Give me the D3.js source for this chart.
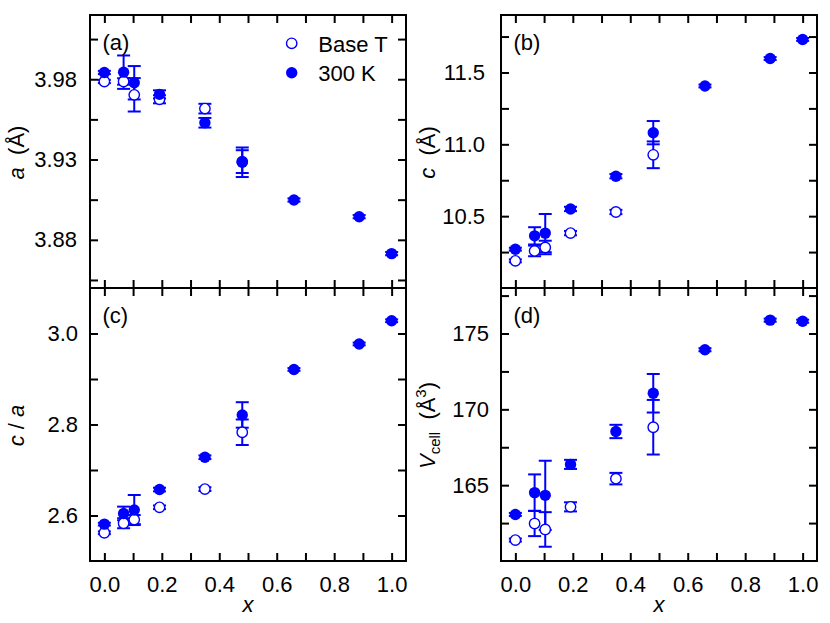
<!DOCTYPE html>
<html><head><meta charset="utf-8">
<script src="https://cdn.jsdelivr.net/npm/d3@7"></script>
<style>
body{margin:0;background:#fff;}
svg{display:block;font-family:"Liberation Sans",Arial,Helvetica,sans-serif;}
</style></head><body>
<svg id="chart" width="830" height="623"></svg>
<script>
// ---- data ----
const xBaseT = [0, 0.067, 0.104, 0.192, 0.35, 0.48];
const x300K  = [0, 0.067, 0.104, 0.192, 0.35, 0.48, 0.66, 0.887, 1.0];

const aBaseT    = [3.9786, 3.9786, 3.9703, 3.9675, 3.9617, 3.9287];
const aBaseTErr = [0.001, 0.002, 0.0104, 0.0025, 0.003, 0.0071];
const a300K     = [3.9842, 3.9844, 3.9778, 3.9706, 3.9529, 3.9283, 3.9048, 3.8944, 3.8714];
const a300KErr  = [0.001, 0.0104, 0.0104, 0.0025, 0.003, 0.0092, 0.001, 0.001, 0.001];

const cBaseT    = [10.189, 10.258, 10.282, 10.382, 10.529, 10.927];
const cBaseTErr = [0.01, 0.037, 0.047, 0.015, 0.015, 0.093];
const c300K     = [10.270, 10.363, 10.382, 10.55, 10.778, 11.081, 11.406, 11.597, 11.73];
const c300KErr  = [0.01, 0.06, 0.133, 0.015, 0.015, 0.081, 0.01, 0.01, 0.01];

const caBaseT    = [2.562, 2.583, 2.591, 2.618, 2.658, 2.783];
const caBaseTErr = [0.003, 0.011, 0.01, 0.004, 0.004, 0.028];
const ca300K     = [2.581, 2.6045, 2.612, 2.657, 2.728, 2.821, 2.921, 2.977, 3.028];
const ca300KErr  = [0.003, 0.015, 0.033, 0.004, 0.004, 0.028, 0.003, 0.003, 0.003];

const vBaseT    = [161.38, 162.47, 162.08, 163.57, 165.43, 168.82];
const vBaseTErr = [0.1, 0.83, 1.14, 0.3, 0.38, 1.8];
const v300K     = [163.07, 164.51, 164.33, 166.37, 168.54, 171.06, 173.93, 175.88, 175.81];
const v300KErr  = [0.1, 1.2, 2.28, 0.3, 0.44, 1.27, 0.1, 0.1, 0.1];

const xDomain = [-0.05, 1.05];
const xTicks = [0, 0.1, 0.2, 0.3, 0.4, 0.5, 0.6, 0.7, 0.8, 0.9, 1.0];
const xTickLabels = [0, 0.2, 0.4, 0.6, 0.8, 1.0];

const aTicks = [3.855, 3.88, 3.905, 3.93, 3.955, 3.98, 4.005];
const aTickLabels = [3.88, 3.93, 3.98];
const cTicks = [10.25, 10.5, 10.75, 11.0, 11.25, 11.5, 11.75];
const cTickLabels = [10.5, 11.0, 11.5];
const caTicks = [2.6, 2.7, 2.8, 2.9, 3.0];
const caTickLabels = [2.6, 2.8, 3.0];
const vTicks = [162.5, 165, 167.5, 170, 172.5, 175, 177.5];
const vTickLabels = [165, 170, 175];

const legendLabels = ["Base T", "300 K"];
const panelLabels = ["(a)", "(b)", "(c)", "(d)"];

// ---- layout ----
const COLS = [[90, 406], [501, 817]];
const ROWS = [[15, 288], [288, 561]];
const BLUE = "#0000ff";
const TICK = 8;
const FS = 22;

const svg = d3.select("#chart");

const panels = [
  {col:0,row:0,dom:[3.85,4.02],ticks:aTicks,labels:aTickLabels,fmt:".2f",pad:13,
   base:aBaseT,baseErr:aBaseTErr,hot:a300K,hotErr:a300KErr,title:"a",label:panelLabels[0],legend:true},
  {col:1,row:0,dom:[10.0,11.9],ticks:cTicks,labels:cTickLabels,fmt:".1f",pad:16,
   base:cBaseT,baseErr:cBaseTErr,hot:c300K,hotErr:c300KErr,title:"c",label:panelLabels[1]},
  {col:0,row:1,dom:[2.5,3.1],ticks:caTicks,labels:caTickLabels,fmt:".1f",pad:12,
   base:caBaseT,baseErr:caBaseTErr,hot:ca300K,hotErr:ca300KErr,title:"ca",label:panelLabels[2]},
  {col:1,row:1,dom:[160,178],ticks:vTicks,labels:vTickLabels,fmt:"d",pad:12,
   base:vBaseT,baseErr:vBaseTErr,hot:v300K,hotErr:v300KErr,title:"v",label:panelLabels[3]}
];

const has = (arr, v) => arr.some(m => Math.abs(m - v) < 1e-9);

function styleAxis(sel) {
  sel.select(".domain").remove();
  sel.attr("font-family", null).attr("font-size", null);
  sel.selectAll(".tick line").attr("stroke", "#000").attr("stroke-width", 2);
  sel.selectAll(".tick text").attr("fill", "#000").style("font-size", FS + "px");
}

panels.forEach(p => {
  const [L, R] = COLS[p.col], [T, B] = ROWS[p.row];
  const x = d3.scaleLinear().domain(xDomain).range([L, R]);
  const y = d3.scaleLinear().domain(p.dom).range([B, T]);
  const g = svg.append("g");

  // axes (inward ticks)
  g.append("g").attr("transform", `translate(0,${B})`)
    .call(d3.axisBottom(x).tickValues(xTicks).tickSize(-TICK).tickPadding(15)
      .tickFormat(v => (p.row === 1 && has(xTickLabels, v)) ? d3.format(".1f")(v) : ""))
    .call(styleAxis);
  g.append("g").attr("transform", `translate(0,${T})`)
    .call(d3.axisTop(x).tickValues(xTicks).tickSize(-TICK).tickFormat(""))
    .call(styleAxis);
  g.append("g").attr("transform", `translate(${L},0)`)
    .call(d3.axisLeft(y).tickValues(p.ticks).tickSize(-TICK).tickPadding(p.pad)
      .tickFormat(v => has(p.labels, v) ? d3.format(p.fmt)(v) : ""))
    .call(styleAxis);
  g.append("g").attr("transform", `translate(${R},0)`)
    .call(d3.axisRight(y).tickValues(p.ticks).tickSize(-TICK).tickFormat(""))
    .call(styleAxis);

  g.append("rect").attr("x", L).attr("y", T).attr("width", R - L).attr("height", B - T)
    .attr("fill", "none").attr("stroke", "#000").attr("stroke-width", 2);

  // error bars
  const eb = g.append("g").attr("stroke", BLUE).attr("stroke-width", 2).attr("fill", "none");
  function drawErr(xs, vs, es) {
    xs.forEach((xv, i) => {
      const cx = x(xv), y1 = y(vs[i] - es[i]), y2 = y(vs[i] + es[i]);
      eb.append("line").attr("x1", cx).attr("x2", cx).attr("y1", y1).attr("y2", y2);
      [y1, y2].forEach(yy => eb.append("line").attr("x1", cx - 6.5).attr("x2", cx + 6.5)
        .attr("y1", yy).attr("y2", yy));
    });
  }
  drawErr(x300K, p.hot, p.hotErr);
  drawErr(xBaseT, p.base, p.baseErr);

  g.append("g").selectAll("circle").data(xBaseT).join("circle")
    .attr("cx", d => x(d)).attr("cy", (d, i) => y(p.base[i])).attr("r", 5.2)
    .attr("fill", "#fff").attr("stroke", BLUE).attr("stroke-width", 1.4);
  g.append("g").selectAll("circle").data(x300K).join("circle")
    .attr("cx", d => x(d)).attr("cy", (d, i) => y(p.hot[i])).attr("r", 5.7)
    .attr("fill", BLUE);

  // panel label
  g.append("text").attr("x", L + 12.5).attr("y", T + 35).attr("font-size", FS).text(p.label);

  // x title
  if (p.row === 1) {
    g.append("text").attr("x", (L + R) / 2).attr("y", 612).attr("text-anchor", "middle")
      .attr("font-size", FS).attr("font-style", "italic").text("x");
  }

  // y title
  const t = g.append("text").attr("transform", `translate(${L - 66},${(T + B) / 2 + 1}) rotate(-90)`)
    .attr("text-anchor", "middle").attr("font-size", FS);
  if (p.title === "a") {
    t.append("tspan").attr("font-style", "italic").text("a");
    t.append("tspan").text("\u00a0\u00a0(Å)");
  } else if (p.title === "c") {
    t.append("tspan").attr("font-style", "italic").text("c");
    t.append("tspan").text("\u00a0\u00a0(Å)");
  } else if (p.title === "ca") {
    t.append("tspan").attr("font-style", "italic").text("c");
    t.append("tspan").text(" / ");
    t.append("tspan").attr("font-style", "italic").text("a");
  } else {
    t.append("tspan").attr("font-style", "italic").text("V");
    t.append("tspan").attr("font-size", 15).attr("dy", 5).text("cell");
    t.append("tspan").attr("dy", -5).text("\u00a0\u00a0(Å");
    t.append("tspan").attr("font-size", 15).attr("dy", -9).text("3");
    t.append("tspan").attr("dy", 9).text(")");
  }

  if (p.legend) {
    const lx = L + 201.7;
    g.append("circle").attr("cx", lx).attr("cy", T + 28.3).attr("r", 5.2)
      .attr("fill", "#fff").attr("stroke", BLUE).attr("stroke-width", 1.4);
    g.append("text").attr("x", L + 228.3).attr("y", T + 36.5).attr("font-size", FS).text(legendLabels[0]);
    g.append("circle").attr("cx", lx).attr("cy", T + 57.7).attr("r", 5.7).attr("fill", BLUE);
    g.append("text").attr("x", L + 228.3).attr("y", T + 66.3).attr("font-size", FS).text(legendLabels[1]);
  }
});
</script>
</body></html>
